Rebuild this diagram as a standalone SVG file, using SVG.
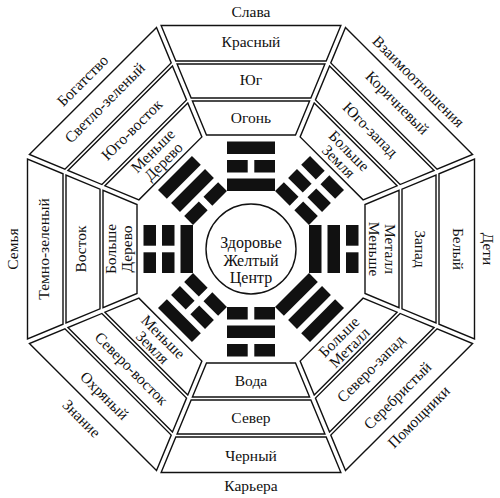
<svg xmlns="http://www.w3.org/2000/svg" xmlns:xlink="http://www.w3.org/1999/xlink" width="500" height="498" viewBox="0 0 500 498">
<style>
.cell{fill:#fff;stroke:#111;stroke-width:1.4;stroke-linejoin:miter}
.t{font-family:"Liberation Serif","Times New Roman",serif;font-size:15.5px;fill:#111;text-anchor:middle}
.bar{fill:#111}
.ctr{fill:#fff;stroke:#111;stroke-width:1.4}
</style>
<defs>
<g id="cells">
<polygon class="cell" points="-89.87,-223.5 89.87,-223.5 75.17,-188 -75.17,-188"/>
<polygon class="cell" points="-73.92,-185 73.92,-185 59.84,-151 -59.84,-151"/>
<polygon class="cell" points="-58.6,-148 58.6,-148 44.51,-114 -44.51,-114"/>
</g>
<g id="sol"><rect class="bar" x="-24" y="0" width="48" height="12.5"/></g>
<g id="brk"><rect class="bar" x="-24" y="0" width="20.7" height="12.5"/><rect class="bar" x="3.3" y="0" width="20.7" height="12.5"/></g>
</defs>
<rect width="500" height="498" fill="#fff"/>

<g id="sector-south">
<use href="#cells" transform="translate(251,249)"/>
<g transform="translate(251,249)"><use href="#sol" y="-70.5"/><use href="#brk" y="-89"/><use href="#sol" y="-107.5"/></g>
<text class="t" x="251" y="12" dy=".35em">Слава</text>
<text class="t" x="251" y="42" dy=".35em">Красный</text>
<text class="t" x="251" y="80" dy=".35em">Юг</text>
<text class="t" x="251" y="117.5" dy=".35em">Огонь</text>
</g>

<g id="sector-southwest">
<use href="#cells" transform="translate(251,249) rotate(45)"/>
<g transform="translate(251,249) rotate(45)"><use href="#brk" y="-70.5"/><use href="#brk" y="-89"/><use href="#brk" y="-107.5"/></g>
<text class="t" transform="translate(418.6,81.4) rotate(45)" dy=".35em">Взаимоотношения</text>
<text class="t" transform="translate(397.4,102.6) rotate(45)" dy=".35em">Коричневый</text>
<text class="t" transform="translate(370.5,129.5) rotate(45)" dy=".35em">Юго-запад</text>
<g transform="translate(344,156) rotate(45)"><text class="t" y="-7.5" dy=".35em">Больше</text><text class="t" y="7.5" dy=".35em">Земля</text></g>
</g>

<g id="sector-west">
<use href="#cells" transform="translate(251,249) rotate(90)"/>
<g transform="translate(251,249) rotate(90)"><use href="#sol" y="-70.5"/><use href="#sol" y="-89"/><use href="#brk" y="-107.5"/></g>
<text class="t" transform="translate(488,249) rotate(90)" dy=".35em">Дети</text>
<text class="t" transform="translate(458,249) rotate(90)" dy=".35em">Белый</text>
<text class="t" transform="translate(420,249) rotate(90)" dy=".35em">Запад</text>
<g transform="translate(382.5,249) rotate(90)"><text class="t" y="8" dy=".35em">Меньше</text><text class="t" y="-8" dy=".35em">Металл</text></g>
</g>

<g id="sector-northwest">
<use href="#cells" transform="translate(251,249) rotate(135)"/>
<g transform="translate(251,249) rotate(135)"><use href="#sol" y="-70.5"/><use href="#sol" y="-89"/><use href="#sol" y="-107.5"/></g>
<text class="t" transform="translate(418.6,416.6) rotate(-45)" dy=".35em">Помощники</text>
<text class="t" transform="translate(397.4,395.4) rotate(-45)" dy=".35em">Серебристый</text>
<text class="t" transform="translate(370.5,368.5) rotate(-45)" dy=".35em">Северо-запад</text>
<g transform="translate(344,342) rotate(-45)"><text class="t" y="-7.5" dy=".35em">Больше</text><text class="t" y="7.5" dy=".35em">Металл</text></g>
</g>

<g id="sector-north">
<use href="#cells" transform="translate(251,249) rotate(180)"/>
<g transform="translate(251,249) rotate(180)"><use href="#brk" y="-70.5"/><use href="#sol" y="-89"/><use href="#brk" y="-107.5"/></g>
<text class="t" x="251" y="486" dy=".35em">Карьера</text>
<text class="t" x="251" y="456" dy=".35em">Черный</text>
<text class="t" x="251" y="418" dy=".35em">Север</text>
<text class="t" x="251" y="380.5" dy=".35em">Вода</text>
</g>

<g id="sector-northeast">
<use href="#cells" transform="translate(251,249) rotate(225)"/>
<g transform="translate(251,249) rotate(225)"><use href="#brk" y="-70.5"/><use href="#brk" y="-89"/><use href="#sol" y="-107.5"/></g>
<text class="t" transform="translate(81.7,418.3) rotate(45)" dy=".35em">Знание</text>
<text class="t" transform="translate(104.6,395.4) rotate(45)" dy=".35em">Охряный</text>
<text class="t" transform="translate(131.5,368.5) rotate(45)" dy=".35em">Северо-восток</text>
<g transform="translate(158,342) rotate(45)"><text class="t" y="-7.5" dy=".35em">Меньше</text><text class="t" y="7.5" dy=".35em">Земля</text></g>
</g>

<g id="sector-east">
<use href="#cells" transform="translate(251,249) rotate(270)"/>
<g transform="translate(251,249) rotate(270)"><use href="#sol" y="-70.5"/><use href="#brk" y="-89"/><use href="#brk" y="-107.5"/></g>
<text class="t" transform="translate(13,249) rotate(-90)" dy=".35em">Семья</text>
<text class="t" transform="translate(44,249) rotate(-90)" dy=".35em">Темно-зеленый</text>
<text class="t" transform="translate(81,249) rotate(-90)" dy=".35em">Восток</text>
<g transform="translate(119,249) rotate(-90)"><text class="t" y="-8" dy=".35em">Больше</text><text class="t" y="8" dy=".35em">Дерево</text></g>
</g>

<g id="sector-southeast">
<use href="#cells" transform="translate(251,249) rotate(315)"/>
<g transform="translate(251,249) rotate(315)"><use href="#brk" y="-70.5"/><use href="#sol" y="-89"/><use href="#sol" y="-107.5"/></g>
<text class="t" transform="translate(82.5,80.5) rotate(-45)" dy=".35em">Богатство</text>
<text class="t" transform="translate(104.6,102.6) rotate(-45)" dy=".35em">Светло-зеленый</text>
<text class="t" transform="translate(131.5,129.5) rotate(-45)" dy=".35em">Юго-восток</text>
<g transform="translate(158,156) rotate(-45)"><text class="t" y="-7.5" dy=".35em">Меньше</text><text class="t" y="7.5" dy=".35em">Дерево</text></g>
</g>

<g id="center">
<circle class="ctr" cx="251" cy="249" r="45"/>
<text class="t" x="251" y="248" style="font-size:16px">Здоровье</text>
<text class="t" x="251" y="265.5" style="font-size:16px">Желтый</text>
<text class="t" x="251" y="283" style="font-size:16px">Центр</text>
</g>

<g id="connectors"/>
</svg>
